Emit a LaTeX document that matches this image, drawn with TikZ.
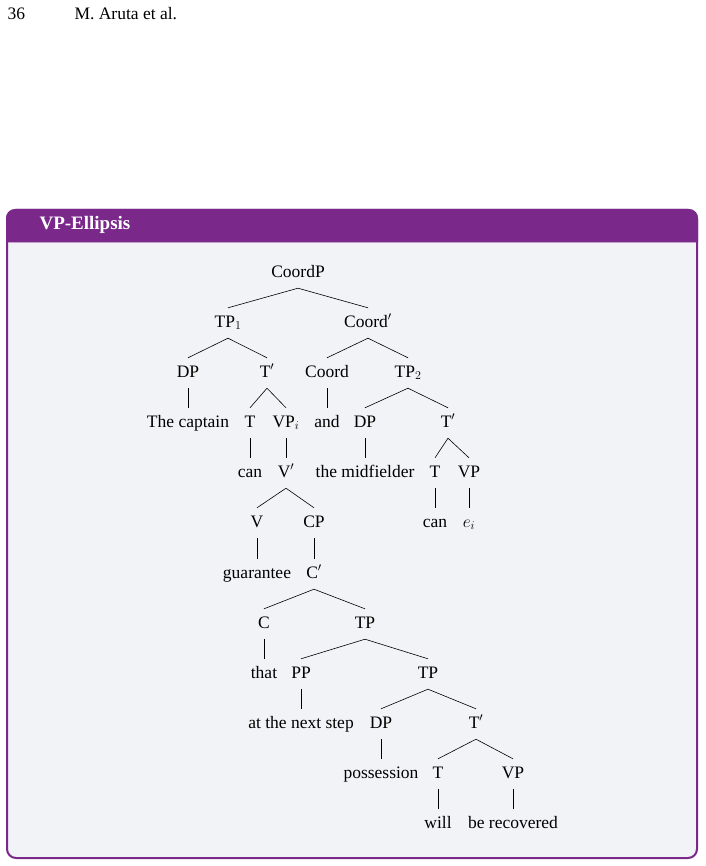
\documentclass[tikz,border=0pt]{standalone}
\usepackage{fontspec}
\setmainfont{Liberation Serif}
\usepackage{amsmath}
\usepackage{tikz}
\definecolor{boxpurple}{RGB}{122,40,138}
\definecolor{boxgrey}{RGB}{242,243,246}
\definecolor{barline}{RGB}{196,160,204}

\begin{document}
\begin{tikzpicture}[x=1pt,y=-1pt,
  cat/.style={inner xsep=0pt,inner ysep=7pt,text height=12pt,text depth=4pt,
    font=\fontsize{17.5}{20}\selectfont},
  branch/.style={line width=0.6pt,black}]
\useasboundingbox (0,0) rectangle (705,866);
% page head
\node[anchor=west,font=\fontsize{17.5}{20}\selectfont] (pagenum) at (4,14) {36};
\node[anchor=west,font=\fontsize{17.5}{20}\selectfont] (runhead) at (71,14) {M. Aruta et al.};
% the box
\path[fill=boxgrey,draw=boxpurple,line width=2pt,rounded corners=9pt] (7,210) rectangle (697,858);
\begin{scope}
\clip (0,0) rectangle (705,242);
\fill[boxpurple,rounded corners=9pt] (6,209) rectangle (698,270);
\end{scope}
\draw[barline,line width=0.8pt] (8,242) -- (696,242);
\node[anchor=west,text=white,font=\fontsize{19}{22}\selectfont\bfseries] (title) at (36,225) {VP-Ellipsis};

% first conjunct
\node[cat] (coordp) at (298,273) {CoordP};
\node[cat] (tpone) at (228,323) {TP$_1$};
\node[cat] (coordbar) at (368,323) {Coord$'$};
\node[cat] (dpone) at (188,373) {DP};
\node[cat] (tbarone) at (267,373) {T$'$};
\node[cat] (coord) at (327,373) {Coord};
\node[cat] (tptwo) at (408,373) {TP$_2$};
\node[cat] (captain) at (188,423) {The captain};
\node[cat] (tone) at (250,423) {T};
\node[cat] (vpi) at (286,423) {VP$_i$};
\node[cat] (and) at (327,423) {and};
\node[cat] (dptwo) at (365,423) {DP};
\node[cat] (tbartwo) at (448,423) {T$'$};
\node[cat] (canone) at (250,473) {can};
\node[cat] (vbar) at (286,473) {V$'$};
\node[cat] (midfielder) at (365,473) {the midfielder};
\node[cat] (ttwo) at (435,473) {T};
\node[cat] (vptwo) at (469,473) {VP};
\node[cat] (v) at (257,523) {V};
\node[cat] (cp) at (314,523) {CP};
\node[cat] (cantwo) at (435,523) {can};
\node[cat] (ei) at (469,523) {$e_i$};
\node[cat] (guarantee) at (257,574) {guarantee};
\node[cat] (cbar) at (314,574) {C$'$};
\node[cat] (c) at (264,624) {C};
\node[cat] (tpthree) at (365,624) {TP};
\node[cat] (that) at (264,674) {that};
\node[cat] (pp) at (301,674) {PP};
\node[cat] (tpfour) at (428,674) {TP};
\node[cat] (nextstep) at (301,724) {at the next step};
\node[cat] (dpthree) at (381,724) {DP};
\node[cat] (tbarthree) at (476,724) {T$'$};
\node[cat] (possession) at (381,774) {possession};
\node[cat] (tthree) at (438,774) {T};
\node[cat] (vpthree) at (513,774) {VP};
\node[cat] (will) at (438,824) {will};
\node[cat] (recovered) at (513,824) {be recovered};

% branches
\draw[branch] (tpone.north) -- (coordp.south) -- (coordbar.north);
\draw[branch] (dpone.north) -- (tpone.south) -- (tbarone.north);
\draw[branch] (coord.north) -- (coordbar.south) -- (tptwo.north);
\draw[branch] (dpone.south) -- (captain.north);
\draw[branch] (tone.north) -- (tbarone.south) -- (vpi.north);
\draw[branch] (coord.south) -- (and.north);
\draw[branch] (dptwo.north) -- (tptwo.south) -- (tbartwo.north);
\draw[branch] (tone.south) -- (canone.north);
\draw[branch] (vpi.south) -- (vbar.north);
\draw[branch] (dptwo.south) -- (midfielder.north);
\draw[branch] (ttwo.north) -- (tbartwo.south) -- (vptwo.north);
\draw[branch] (v.north) -- (vbar.south) -- (cp.north);
\draw[branch] (ttwo.south) -- (cantwo.north);
\draw[branch] (vptwo.south) -- (ei.north);
\draw[branch] (v.south) -- (guarantee.north);
\draw[branch] (cp.south) -- (cbar.north);
\draw[branch] (c.north) -- (cbar.south) -- (tpthree.north);
\draw[branch] (c.south) -- (that.north);
\draw[branch] (pp.north) -- (tpthree.south) -- (tpfour.north);
\draw[branch] (pp.south) -- (nextstep.north);
\draw[branch] (dpthree.north) -- (tpfour.south) -- (tbarthree.north);
\draw[branch] (dpthree.south) -- (possession.north);
\draw[branch] (tthree.north) -- (tbarthree.south) -- (vpthree.north);
\draw[branch] (tthree.south) -- (will.north);
\draw[branch] (vpthree.south) -- (recovered.north);
\end{tikzpicture}
\end{document}
